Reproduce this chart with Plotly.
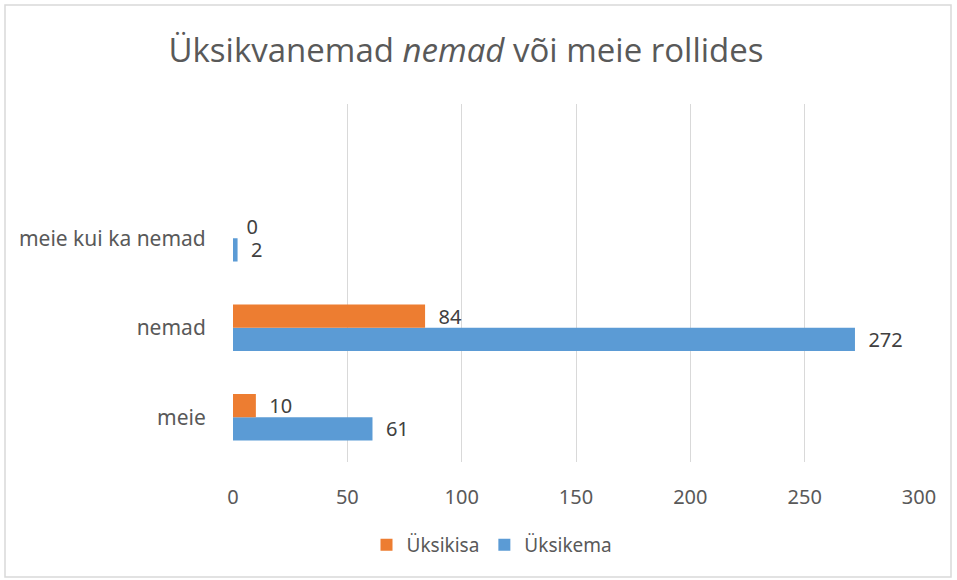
import plotly.graph_objects as go

categories = ["meie", "nemad", "meie kui ka nemad"]
isa_values = [10, 84, 0]
ema_values = [61, 272, 2]
series_names = ["Üksikisa", "Üksikema"]
x_ticks = [0, 50, 100, 150, 200, 250, 300]

W, H = 957, 580
L, R, T, B = 233, 38, 104, 118
pw, ph = W - L - R, H - T - B

FONT = "Noto Sans"
PAD = "\u00a0\u00a0"

fig = go.Figure()
fig.add_trace(go.Bar(
    y=categories, x=ema_values, name=series_names[1], orientation="h",
    marker=dict(color="#5B9BD5", line=dict(width=0)),
    text=[PAD + str(v) for v in ema_values], textposition="outside",
    constraintext="none",
    textfont=dict(color="#404040", size=20, family=FONT),
    cliponaxis=False,
))
fig.add_trace(go.Bar(
    y=categories, x=isa_values, name=series_names[0], orientation="h",
    marker=dict(color="#ED7D31", line=dict(width=0)),
    text=[PAD + str(v) for v in isa_values], textposition="outside",
    constraintext="none",
    textfont=dict(color="#404040", size=20, family=FONT),
    cliponaxis=False,
))

def px_x(p):
    return (p - L) / pw

def px_y(p):
    return (H - B - p) / ph

fig.add_shape(type="rect", xref="paper", yref="paper",
              x0=px_x(5), x1=px_x(951), y0=px_y(577), y1=px_y(5),
              line=dict(color="#D9D9D9", width=1.5), fillcolor="rgba(0,0,0,0)", layer="below")

fig.update_layout(
    width=W, height=H,
    margin=dict(l=L, r=R, t=T, b=B, autoexpand=False),
    paper_bgcolor="white", plot_bgcolor="white",
    barmode="group", bargap=0.48, bargroupgap=0,
    title=dict(text="Üksikvanemad <i>nemad</i> või meie rollides",
               x=466 / W, xanchor="center", y=1 - 50 / H, yanchor="middle",
               font=dict(family="Open Sans", size=33, color="#595959")),
    xaxis=dict(range=[0, 300], tickvals=x_ticks, showgrid=True, gridcolor="#D9D9D9",
               gridwidth=1, zeroline=False, showline=False,
               ticks="outside", ticklen=17, tickcolor="rgba(0,0,0,0)",
               tickfont=dict(family=FONT, size=20, color="#595959")),
    yaxis=dict(type="category", categoryorder="array", categoryarray=categories,
               range=[-0.5, 3.5], showgrid=False, zeroline=False, showline=False,
               ticks="outside", ticklen=22, tickcolor="rgba(0,0,0,0)",
               tickfont=dict(family=FONT, size=21, color="#595959")),
    legend=dict(orientation="h", traceorder="reversed", xref="container", yref="container",
                x=492 / W, xanchor="center", y=1 - 545 / H, yanchor="middle",
                font=dict(family=FONT, size=19, color="#595959"),
                itemwidth=30, tracegroupgap=0),
    showlegend=True,
)

fig.write_html("out.html", config={"displayModeBar": False},
               post_script="document.body.style.margin='0';")
